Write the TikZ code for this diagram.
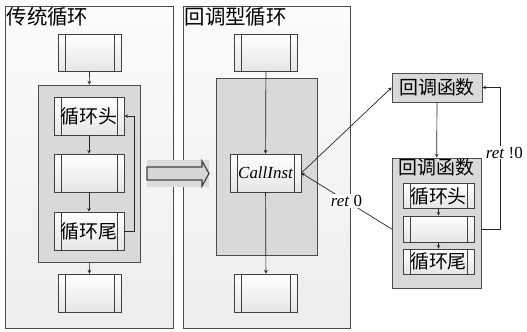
\documentclass[tikz,border=0pt]{standalone}
\usepackage{fontspec}
\setmainfont{Liberation Serif}
\newfontfamily\cjk{Noto Sans CJK SC}
\usetikzlibrary{positioning}
\tikzset{
  panel/.style={draw=black!70,line width=0.7bp,top color=gray!3,bottom color=gray!14,anchor=north west,inner sep=0pt},
  loopbox/.style={draw=black!70,line width=0.7bp,fill=gray!30,inner sep=0pt},
  proc/.style={draw=black!75,line width=0.6bp,top color=white,bottom color=gray!20,inner sep=0pt,
    minimum width=#1,
    path picture={\draw[black!75,line width=0.6bp]
      ([xshift=7bp]path picture bounding box.north west)--([xshift=7bp]path picture bounding box.south west)
      ([xshift=-7bp]path picture bounding box.north east)--([xshift=-7bp]path picture bounding box.south east);}},
  proc/.default=63bp,
  lbl/.style={font=\cjk\fontsize{19}{21}\selectfont,inner sep=1bp},
  ttl/.style={font=\cjk\fontsize{20.5}{22}\selectfont,inner sep=1.5bp,anchor=north west},
  edge/.style={draw=black!85,line width=0.7bp,->}
}
\begin{document}
\begin{tikzpicture}[>=stealth,x=1bp,y=-1bp]
    \useasboundingbox (0,0) rectangle (527,331);
    \node[panel,minimum width=168bp,minimum height=322bp] (trad) at (5,6) {};
    \node[ttl] at (trad.north west) {传统循环};
    \node[panel,minimum width=167bp,minimum height=322bp] (cbp) at (183,6) {};
    \node[ttl] at (cbp.north west) {回调型循环};

    \node[proc,minimum height=37bp] (ta) at (89.5,52.5) {};
    \node[loopbox,minimum width=102bp,minimum height=177bp] (tloop) at (89,173.5) {};
    \node[proc=70bp,minimum height=38bp,lbl] (thead) at (89,116) {循环头};
    \node[proc=70bp,minimum height=38bp] (tbody) at (89,173) {};
    \node[proc=70bp,minimum height=38bp,lbl] (ttail) at (89,231) {循环尾};
    \node[proc,minimum height=38bp] (tb) at (89.5,293) {};
    \draw[edge] (ta) -- (tloop);
    \draw[edge] (thead) -- (tbody);
    \draw[edge] (tbody) -- (ttail);
    \draw[edge] (ttail.east) -- ++(10,0) |- (thead.east);
    \draw[edge] (tloop) -- (tb);

    \fill[gray!28] (147,160) rectangle (209,187);
    \draw[black!75,line width=1.2bp,fill=gray!32] (147,167) -- (202,167) -- (202,161) -- (209,173.5)
      -- (202,186) -- (202,180) -- (147,180) -- cycle;

    \node[proc,minimum height=37bp] (ca) at (266,52.5) {};
    \node[loopbox,minimum width=101bp,minimum height=177bp] (cloop) at (266.5,166.5) {};
    \node[proc=71bp,minimum height=38bp,font=\fontsize{17}{19}\selectfont\itshape] (call) at (265.5,173) {CallInst};
    \node[proc,minimum height=38bp] (cb) at (266,293) {};
    \draw[edge] (ca) -- (call);
    \draw[edge] (call) -- (cb);

    \node[loopbox,minimum width=90bp,minimum height=29bp,lbl] (cbf) at (437,87.5) {回调函数};
    \node[loopbox,minimum width=89bp,minimum height=130bp] (fbox) at (436.5,223) {};
    \node[lbl,anchor=north,inner sep=0.5bp] at (fbox.north) {回调函数};
    \node[proc=71bp,minimum height=25bp,lbl] (fhead) at (438.5,196) {循环头};
    \node[proc=71bp,minimum height=26bp] (fbody) at (438.5,229) {};
    \node[proc=71bp,minimum height=25bp,lbl] (ftail) at (438.5,261.5) {循环尾};
    \draw[edge] (fhead) -- (fbody);
    \draw[edge] (fbody) -- (ftail);
    \draw[edge] (cbf) -- (fbox);
    \draw[edge] (call.east) -- (cbf.west);
    \draw[edge] (fbox.west |- fbody) -- node[fill=white,inner sep=1bp,font=\fontsize{17}{19}\selectfont] {\textit{ret} 0} (call.east);
    \draw[edge] (fbox.east |- fbody) -- ++(19,0) |- node[pos=0.27,fill=white,inner sep=1bp,xshift=4bp,font=\fontsize{17}{19}\selectfont] {\textit{ret} !0} (cbf.east);
\end{tikzpicture}
\end{document}
